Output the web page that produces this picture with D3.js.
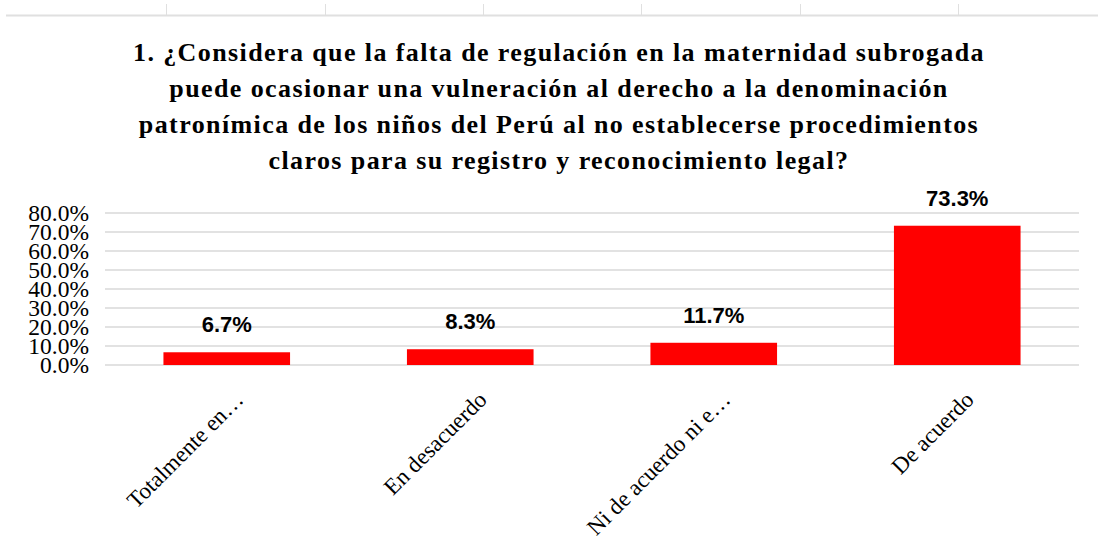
<!DOCTYPE html>
<html>
<head>
<meta charset="utf-8">
<script src="https://cdnjs.cloudflare.com/ajax/libs/d3/7.8.5/d3.min.js"></script>
<style>
  body { margin: 0; background: #fff; }
</style>
</head>
<body>
<div id="chart"></div>
<script>
var categories = ["Totalmente en…", "En desacuerdo", "Ni de acuerdo ni e…", "De acuerdo"];
var values = [6.7, 8.3, 11.7, 73.3];
var yTicks = [0, 10, 20, 30, 40, 50, 60, 70, 80];
var titleLines = [
  "1. ¿Considera que la falta de regulación en la maternidad subrogada",
  "puede ocasionar una vulneración al derecho a la denominación",
  "patronímica de los niños del Perú al no establecerse procedimientos",
  "claros para su registro y reconocimiento legal?"
];
var sheetCols = [166, 325, 483, 641, 800, 958];

var W = 1098, H = 560;
var margin = { top: 213, right: 19, bottom: 195, left: 105 };
var width = W - margin.left - margin.right;
var height = 365 - margin.top;
var serif = "'Liberation Serif', 'Times New Roman', serif";

var svg = d3.select("#chart").append("svg")
    .attr("width", W)
    .attr("height", H);

// spreadsheet header remnants at the top
svg.append("line")
    .attr("x1", 6).attr("x2", W)
    .attr("y1", 15.5).attr("y2", 15.5)
    .attr("stroke", "#e0e0e0").attr("stroke-width", 2);
svg.selectAll(".col")
    .data(sheetCols)
    .enter().append("line")
    .attr("x1", function (d) { return d + 0.5; })
    .attr("x2", function (d) { return d + 0.5; })
    .attr("y1", 4).attr("y2", 15)
    .attr("stroke", "#e0e0e0").attr("stroke-width", 1);

// title
svg.append("text")
    .attr("text-anchor", "middle")
    .style("font-family", serif)
    .style("font-weight", "bold")
    .style("font-size", "26px")
    .style("letter-spacing", "1.4px")
    .attr("fill", "#000")
    .selectAll("tspan")
    .data(titleLines)
    .enter().append("tspan")
    .attr("x", 559)
    .attr("y", function (d, i) { return 61 + i * 36; })
    .text(function (d) { return d; });

var g = svg.append("g")
    .attr("transform", "translate(" + margin.left + "," + margin.top + ")");

var x = d3.scaleBand()
    .domain(categories)
    .range([0, width])
    .paddingInner(0.48)
    .paddingOuter(0.24);

var y = d3.scaleLinear()
    .domain([0, 80])
    .range([height, 0]);

// gridlines
g.selectAll(".grid")
    .data(yTicks)
    .enter().append("line")
    .attr("x1", 0).attr("x2", width)
    .attr("y1", function (d) { return y(d); })
    .attr("y2", function (d) { return y(d); })
    .attr("stroke", "#d9d9d9")
    .attr("stroke-width", 1.5);

// y axis
var yAxis = g.append("g")
    .call(d3.axisLeft(y).tickValues(yTicks).tickSize(0).tickPadding(16)
      .tickFormat(function (d) { return d.toFixed(1) + "%"; }));
yAxis.select(".domain").remove();
yAxis.selectAll("text")
    .style("font-family", serif)
    .style("font-size", "23.5px")
    .attr("fill", "#000");

// bars
g.selectAll(".bar")
    .data(values)
    .enter().append("rect")
    .attr("x", function (d, i) { return x(categories[i]); })
    .attr("width", x.bandwidth())
    .attr("y", function (d) { return y(d); })
    .attr("height", function (d) { return height - y(d); })
    .attr("fill", "#ff0000");

// value labels
g.selectAll(".lbl")
    .data(values)
    .enter().append("text")
    .attr("x", function (d, i) { return x(categories[i]) + x.bandwidth() / 2; })
    .attr("y", function (d) { return y(d) - 20; })
    .attr("text-anchor", "middle")
    .style("font-family", "'Liberation Sans', Arial, sans-serif")
    .style("font-weight", "bold")
    .style("font-size", "22px")
    .attr("fill", "#000")
    .text(function (d) { return d.toFixed(1) + "%"; });

// x axis labels (rotated)
var xAxis = g.append("g")
    .attr("transform", "translate(0," + height + ")")
    .call(d3.axisBottom(x).tickSize(0).tickPadding(0));
xAxis.select(".domain").remove();
xAxis.selectAll("text")
    .style("font-family", serif)
    .style("font-size", "23px")
    .attr("fill", "#000")
    .attr("text-anchor", "end")
    .attr("dy", "0")
    .attr("transform", "translate(18,36) rotate(-45)");
</script>
</body>
</html>
